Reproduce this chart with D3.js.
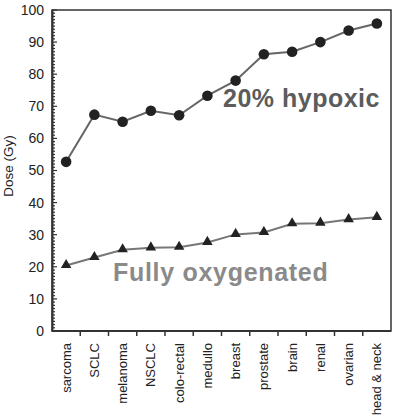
<!DOCTYPE html>
<html>
<head>
<meta charset="utf-8">
<script src="https://cdn.jsdelivr.net/npm/d3@7"></script>
<style>
  body { margin: 0; background: #fff; }
  text { font-family: "Liberation Sans", Arial, sans-serif; }
</style>
</head>
<body>
<svg id="chart"></svg>
<script>
let categories = ["sarcoma", "SCLC", "melanoma", "NSCLC", "colo-rectal", "medullo",
  "breast", "prostate", "brain", "renal", "ovarian", "head & neck"]
let hypoxic = [52.7, 67.4, 65.2, 68.6, 67.2, 73.3, 78.0, 86.2, 87.0, 90.0, 93.6, 95.8]
let oxygenated = [20.4, 22.9, 25.3, 25.9, 26.1, 27.6, 30.1, 30.7, 33.4, 33.6, 34.7, 35.4]
let yTicks = [0, 10, 20, 30, 40, 50, 60, 70, 80, 90, 100]

let width = 397
let height = 418
let plotLeft = 52, plotRight = 391, plotTop = 10, plotBottom = 331

let svg = d3.select("#chart").attr("width", width).attr("height", height)

let xScale = d3.scaleBand().domain(categories).range([plotLeft, plotRight]).padding(0)
let yScale = d3.scaleLinear().domain([0, 100]).range([plotBottom, plotTop])
let cx = (d, i) => xScale(categories[i]) + xScale.bandwidth() / 2

// frame
svg.append("rect")
   .attr("x", plotLeft).attr("y", plotTop)
   .attr("width", plotRight - plotLeft).attr("height", plotBottom - plotTop)
   .attr("fill", "none").attr("stroke", "#333").attr("stroke-width", 1.5)

// y axis: minor ticks every 1, major every 10, inward
let minor = d3.range(0, 101, 1)
svg.append("g").selectAll("line")
   .data(minor).enter().append("line")
   .attr("x1", plotLeft).attr("x2", (d) => d % 10 === 0 ? plotLeft + 5 : plotLeft + 3)
   .attr("y1", (d) => yScale(d)).attr("y2", (d) => yScale(d))
   .attr("stroke", "#333").attr("stroke-width", 1.2)

let yAxis = d3.axisLeft(yScale).tickValues(yTicks).tickSize(0).tickPadding(8)
let gy = svg.append("g").attr("transform", "translate(" + plotLeft + ",0)").call(yAxis)
gy.select(".domain").attr("stroke", "#333").attr("stroke-width", 2)
gy.selectAll("text").style("font-size", "14px").attr("fill", "#222")

// x axis: ticks at band boundaries, pointing down
let bounds = categories.slice(1).map((c) => xScale(c))
svg.append("g").selectAll("line")
   .data(bounds).enter().append("line")
   .attr("x1", (d) => d).attr("x2", (d) => d)
   .attr("y1", plotBottom).attr("y2", plotBottom + 5)
   .attr("stroke", "#333").attr("stroke-width", 1.5)
svg.append("line")
   .attr("x1", plotLeft).attr("x2", plotRight).attr("y1", plotBottom).attr("y2", plotBottom)
   .attr("stroke", "#333").attr("stroke-width", 2)

svg.append("g").selectAll("text")
   .data(categories).enter().append("text")
   .attr("transform", (d) => "translate(" + (xScale(d) + xScale.bandwidth() / 2 + 4.5) + "," + (plotBottom + 12) + ") rotate(-90)")
   .attr("text-anchor", "end")
   .style("font-size", "13px").attr("fill", "#222")
   .text((d) => d)

// y label
svg.append("text")
   .attr("transform", "translate(13,166) rotate(-90)")
   .attr("text-anchor", "middle")
   .style("font-size", "13.5px").attr("fill", "#222")
   .text("Dose (Gy)")

// lines
let line = d3.line().x(cx).y((d) => yScale(d))
svg.append("path").datum(hypoxic).attr("d", line)
   .attr("fill", "none").attr("stroke", "#666").attr("stroke-width", 2)
svg.append("path").datum(oxygenated).attr("d", line)
   .attr("fill", "none").attr("stroke", "#777").attr("stroke-width", 2)

// markers
svg.append("g").selectAll("circle")
   .data(hypoxic).enter().append("circle")
   .attr("cx", cx).attr("cy", (d) => yScale(d)).attr("r", 5.3)
   .attr("fill", "#222")
let tri = d3.symbol().type(d3.symbolTriangle).size(48)
svg.append("g").selectAll("path")
   .data(oxygenated).enter().append("path")
   .attr("d", tri)
   .attr("transform", (d, i) => "translate(" + cx(d, i) + "," + (yScale(d) - 0.5) + ")")
   .attr("fill", "#222")

// series labels
svg.append("text").attr("x", 223).attr("y", 107)
   .style("font-size", "25px").style("font-weight", "bold").style("letter-spacing", "0.5px")
   .attr("fill", "#5c5c5c")
   .text("20% hypoxic")
svg.append("text").attr("x", 113).attr("y", 281)
   .style("font-size", "25px").style("font-weight", "bold").style("letter-spacing", "0.7px")
   .attr("fill", "#8a8a8a")
   .text("Fully oxygenated")
</script>
</body>
</html>
